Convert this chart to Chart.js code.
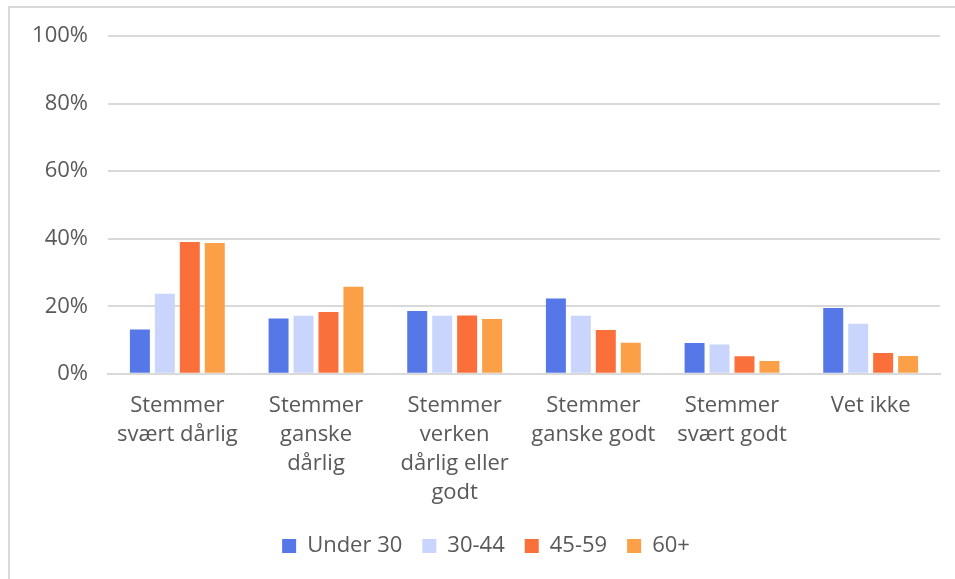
<!DOCTYPE html>
<html>
<head>
<meta charset="utf-8">
<script src="https://cdn.jsdelivr.net/npm/chart.js@4/dist/chart.umd.min.js"></script>
<style>
  html, body { margin: 0; padding: 0; background: #ffffff; }
  #wrap { position: relative; width: 955px; height: 579px; overflow: hidden; }
  #frame { position: absolute; left: 8px; top: 6px; width: 1000px; height: 1000px;
           border-top: 2px solid #d9d9d9; border-left: 2px solid #d9d9d9; box-sizing: border-box; }
  canvas { position: absolute; left: 0; top: 0; }
</style>
</head>
<body>
<div id="wrap">
  <div id="frame"></div>
  <canvas id="c" width="955" height="579"></canvas>
</div>
<script>
const categories = [
  ["Stemmer", "svært dårlig"],
  ["Stemmer", "ganske", "dårlig"],
  ["Stemmer", "verken", "dårlig eller", "godt"],
  ["Stemmer", "ganske godt"],
  ["Stemmer", "svært godt"],
  ["Vet ikke"]
];
const seriesNames = ["Under 30", "30-44", "45-59", "60+"];
const under30 = [13.1, 16.4, 18.6, 22.3, 9.1, 19.5];
const age30_44 = [23.7, 17.2, 17.2, 17.2, 8.7, 14.8];
const age45_59 = [39.0, 18.3, 17.3, 13.0, 5.2, 6.2];
const age60plus = [38.7, 25.8, 16.2, 9.2, 3.8, 5.3];
const yTicks = [0, 20, 40, 60, 80, 100];

const colors = ["#5577e8", "#c9d5fd", "#fb6f3b", "#fba047"];
const values = [under30, age30_44, age45_59, age60plus];
const textColor = "#595959";
const fontFamily = "'Open Sans', Lato, sans-serif";

const legendShift = {
  id: "legendShift",
  afterLayout(chart) {
    const l = chart.legend;
    if (l) { l.left += 16; l.right += 16; }
  }
};

new Chart(document.getElementById("c"), {
  type: "bar",
  data: {
    labels: categories,
    datasets: seriesNames.map((n, i) => ({
      label: n,
      data: values[i],
      backgroundColor: colors[i],
      borderWidth: 0,
      categoryPercentage: 0.72,
      barPercentage: 0.8
    }))
  },
  options: {
    responsive: false,
    animation: false,
    devicePixelRatio: 1,
    layout: { padding: { left: 0, right: 15, top: 36, bottom: 12 } },
    plugins: {
      tooltip: { enabled: false },
      legend: {
        position: "bottom",
        labels: {
          color: textColor,
          font: { family: fontFamily, size: 22 },
          boxWidth: 14,
          boxHeight: 14,
          padding: 20
        }
      }
    },
    scales: {
      x: {
        grid: { display: false, drawTicks: false },
        border: { display: true, color: "#d9d9d9", width: 2 },
        afterFit: (s) => { s.height -= 9; },
        ticks: {
          color: textColor,
          font: { family: fontFamily, size: 22, lineHeight: 1.32 },
          padding: 17,
          maxRotation: 0,
          autoSkip: false
        }
      },
      y: {
        min: 0,
        max: 100,
        afterFit: (s) => { s.width = 108; },
        afterBuildTicks: (s) => { s.ticks = yTicks.map(v => ({ value: v })); },
        grid: { color: "#d9d9d9", lineWidth: 2, drawTicks: false },
        border: { display: false },
        ticks: {
          color: textColor,
          font: { family: fontFamily, size: 22 },
          padding: 20,
          callback: (v) => v + "%"
        }
      }
    }
  },
  plugins: [legendShift]
});
</script>
</body>
</html>
